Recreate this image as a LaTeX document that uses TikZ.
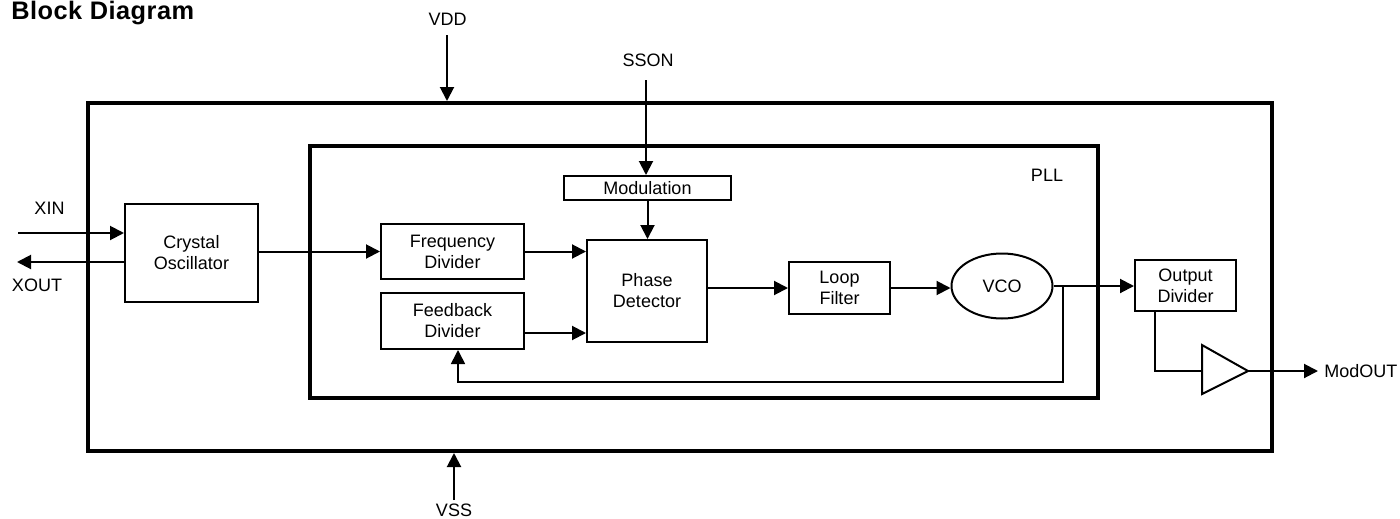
\documentclass[tikz,border=0pt]{standalone}
\usepackage{fontspec}
\setmainfont{Liberation Sans}
\newfontfamily\titlefont{Liberation Sans}[LetterSpace=2]
\usetikzlibrary{arrows.meta,shapes.geometric,calc}
\begin{document}
\begin{tikzpicture}[x=0.75pt,y=-0.75pt,
  every node/.style={font=\fontsize{13.5}{15.75}\selectfont, inner sep=0pt},
  box/.style={draw, line width=1.5pt, inner sep=0pt, align=center},
  conn/.style={line width=1.5pt, -{Triangle[length=10.5pt,width=10.5pt]}},
  wire/.style={line width=1.5pt},
  lbl/.style={align=center}]
\useasboundingbox (0,0) rectangle (1400,518);
\node[anchor=base west, font=\titlefont\bfseries\fontsize{19}{22}\selectfont] (title) at (11,19) {Block Diagram};
% frames
\node[draw, line width=3pt, minimum width=888pt, minimum height=261pt] (outer) at (680,277) {};
\node[draw, line width=2.6pt, minimum width=591pt, minimum height=189pt] (pll) at (704,272) {};
\node[lbl] (plllbl) at (1047,175) {PLL};
% blocks
\node[box, minimum width=99.75pt, minimum height=73.5pt] (cryst) at (191.5,253) {Crystal\\Oscillator};
\node[box, minimum width=125.25pt, minimum height=18pt] (mod) at (647.5,188) {Modulation};
\node[box, minimum width=107.25pt, minimum height=41.25pt] (freq) at (452.5,251.5) {Frequency\\Divider};
\node[box, minimum width=107.25pt, minimum height=42pt] (fb) at (452.5,321) {Feedback\\Divider};
\node[box, minimum width=90pt, minimum height=76.5pt] (pd) at (647,291) {Phase\\Detector};
\node[box, minimum width=75.75pt, minimum height=39pt] (lf) at (839.5,288) {Loop\\Filter};
\node[box, ellipse, minimum width=75.75pt, minimum height=48.75pt] (vco) at (1002,286) {VCO};
\node[box, minimum width=75.75pt, minimum height=38.25pt] (od) at (1185.5,285.5) {Output\\Divider};
% buffer triangle
\coordinate (trl) at (1202,371);
\coordinate (trt) at (1202,345);
\coordinate (trb) at (1202,394);
\coordinate (tra) at (1248,371);
\draw[wire, line join=miter] (trt) -- (tra) -- (trb) -- cycle;
% supply pins
\node[lbl] (vddl) at (447.5,19) {VDD};
\coordinate (vdd) at (447,35);
\draw[conn] (vdd) -- (vdd |- outer.north);
\node[lbl] (vssl) at (454,510) {VSS};
\coordinate (vss) at (454,500);
\draw[conn] (vss) -- (vss |- outer.south);
% SSON
\node[lbl] (ssonl) at (648,60) {SSON};
\coordinate (sson) at (646,80);
\draw[conn] (sson) -- (sson |- mod.north);
% crystal pins
\node[lbl] (xinl) at (49.5,208) {XIN};
\coordinate (xin) at (18,233);
\draw[conn] (xin) -- (xin -| cryst.west);
\node[lbl] (xoutl) at (37,285) {XOUT};
\coordinate (xout) at (17,262);
\draw[conn] (xout -| cryst.west) -- (xout);
% signal path
\draw[conn] (cryst.east |- freq.west) -- (freq.west);
\draw[conn] (freq.east) -- (freq.east -| pd.west);
\draw[conn] ([yshift=-9pt]fb.east) -- ([yshift=-9pt]fb.east -| pd.west);
\draw[conn] (mod.south) -- (mod.south |- pd.north);
\draw[conn] (lf.west -| pd.east) -- (lf.west);
\draw[conn] (lf.east) -- (lf.east -| vco.west);
\draw[conn] (vco.east) -- (vco.east -| od.west);
% feedback loop
\coordinate (j) at ($(vco.east)+(9.5,0)$);
\coordinate (fbc) at (458,382);
\draw[conn, line width=1.2pt] (j) |- (fbc) -- (fbc |- fb.south);
% output
\coordinate (odb) at ($(od.south)+(-30.5,0)$);
\draw[wire] (odb) |- (trl);
\coordinate (mo) at (1318,371);
\draw[conn] (tra) -- (mo);
\node[anchor=west] (modl) at (1324,371) {ModOUT};
\end{tikzpicture}
\end{document}
